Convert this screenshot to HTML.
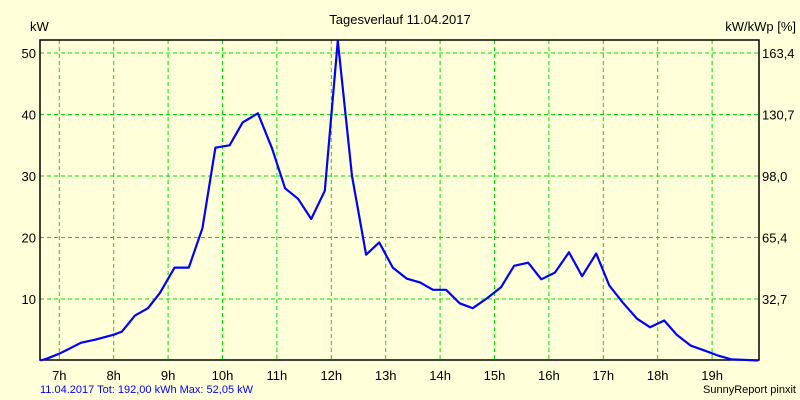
<!DOCTYPE html>
<html><head><meta charset="utf-8"><style>
body{margin:0;background:#FFFFD9;}
svg{display:block;font-family:"Liberation Sans",sans-serif;}
</style></head><body>
<svg id="chart" width="800" height="400">
<rect x="0" y="0" width="800" height="400" fill="#FFFFD9"/>
<text x="400" y="24" font-size="13" text-anchor="middle">Tagesverlauf 11.04.2017</text>
<text x="30" y="31" font-size="13">kW</text>
<text x="796" y="31" font-size="13" text-anchor="end">kW/kWp [%]</text>
<text x="40" y="393" font-size="11" fill="#0000FF">11.04.2017 Tot: 192,00 kWh Max: 52,05 kW</text>
<text x="796" y="393" font-size="11" text-anchor="end">SunnyReport pinxit</text>
<g id="grid"></g><g id="axes"></g><g id="series"></g>
</svg>
<script>
const hours=[6.65,6.77,7.0,7.16,7.40,7.67,8.0,8.15,8.39,8.63,8.85,9.12,9.38,9.63,9.87,10.13,10.37,10.65,10.91,11.15,11.39,11.63,11.88,12.12,12.38,12.64,12.88,13.13,13.39,13.63,13.87,14.11,14.36,14.60,14.86,15.12,15.36,15.62,15.86,16.11,16.37,16.61,16.87,17.11,17.36,17.62,17.86,18.12,18.35,18.61,18.87,19.11,19.35,19.85];
const power=[0,0.3,1.1,1.8,2.9,3.4,4.2,4.7,7.3,8.5,11,15.1,15.1,21.5,34.6,35,38.7,40.2,34.5,28,26.3,23,27.6,52,30,17.2,19.2,15.1,13.3,12.7,11.5,11.5,9.3,8.5,10.1,11.9,15.4,15.9,13.2,14.3,17.6,13.7,17.4,12.2,9.4,6.8,5.4,6.5,4.2,2.4,1.6,0.8,0.2,0];
const leftTicks=[10,20,30,40,50];
const rightTickLabels=["32,7","65,4","98,0","130,7","163,4"];
const hourTicks=[7,8,9,10,11,12,13,14,15,16,17,18,19];
const X0=40,X1=759,Y0=40,Y1=360;
const x=h=>59.3+(h-7)*54.4;
const y=v=>360.5-v*6.15;
const NS="http://www.w3.org/2000/svg";
function mk(tag,attrs,parent){const e=document.createElementNS(NS,tag);for(const k in attrs)e.setAttribute(k,attrs[k]);document.getElementById(parent).appendChild(e);return e;}
hourTicks.forEach(h=>{
 const l=mk('line',{x1:x(h),x2:x(h),y1:Y0,y2:Y1,stroke:'#00E000','stroke-dasharray':'4,3'},'grid');
 
 
 const t=mk('text',{x:x(h),y:380,'font-size':13,'text-anchor':'middle'},'axes');t.textContent=h+'h';
 
 
});
leftTicks.forEach((v,i)=>{
 const l=mk('line',{x1:X0,x2:X1,y1:y(v),y2:y(v),stroke:'#00E000','stroke-dasharray':'4,3'},'grid');
 
 
 const t=mk('text',{x:36,y:y(v)+5,'font-size':13,'text-anchor':'end'},'axes');t.textContent=v;
 
 
 const r=mk('text',{x:762,y:y(v)+5,'font-size':13},'axes');r.textContent=rightTickLabels[i];
 
 
});
const frame=mk('path',{d:`M${X0},${Y0}H${X1}V${Y1}H${X0}Z`,fill:'none',stroke:'#000','stroke-width':1.5},'axes');


const line=mk('polyline',{points:hours.map((h,i)=>x(h).toFixed(1)+','+Math.max(Y0,y(power[i])).toFixed(1)).join(' '),fill:'none',stroke:'#0000FF','stroke-width':2.2,'stroke-linejoin':'round'},'series');


</script>
</body></html>
